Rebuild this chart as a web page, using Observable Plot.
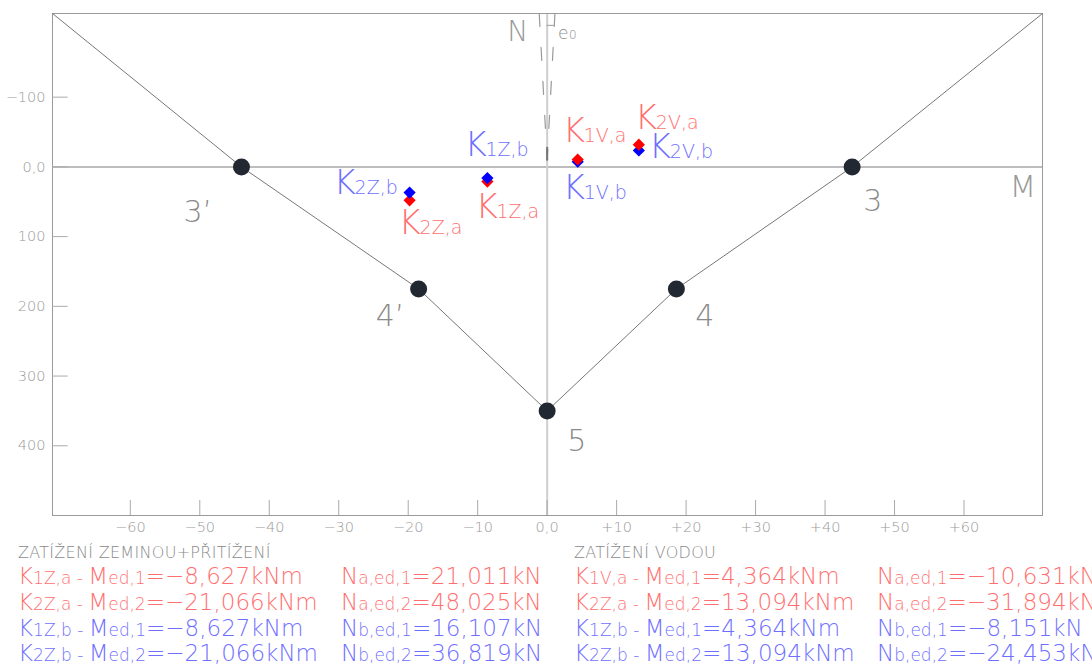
<!DOCTYPE html>
<html><head><meta charset="utf-8">
<script src="https://cdn.jsdelivr.net/npm/d3@7"></script>
<script src="https://cdn.jsdelivr.net/npm/@observablehq/plot@0.6"></script>
<style>
body{margin:0;background:#fff;width:1092px;height:664px;overflow:hidden;font-family:"DejaVu Sans",sans-serif;}
#chart svg, #caption svg{display:block}
</style></head><body>
<div id="chart"></div>
<div id="caption"></div>
<script>
// ---------- data ----------
const envelopeM = [-71.2, -44, -18.5, 0, 18.6, 43.9, 71.3];
const envelopeN = [-220, 0, 175, 350, 175, 0, -220];
const nodeNames = ["3’", "4’", "5", "4", "3"];
const nodeM = [-44, -18.5, 0, 18.6, 43.9];
const nodeN = [0, 175, 350, 175, 0];
const loadNames = ["1Z,a", "2Z,a", "1Z,b", "2Z,b", "1V,b", "2V,b", "1V,a", "2V,a"];
const loadM = [-8.6, -19.8, -8.6, -19.8, 4.4, 13.2, 4.4, 13.2];
const loadN = [21.0, 48.0, 16.1, 36.8, -7.5, -23.5, -10.6, -31.9];
const loadSet = ["a", "a", "b", "b", "b", "b", "a", "a"];
const xTicks = [-60, -50, -40, -30, -20, -10, 0, 10, 20, 30, 40, 50, 60];
const xTickLabels = ["−60", "−50", "−40", "−30", "−20", "−10", "0,0", "+10", "+20", "+30", "+40", "+50", "+60"];
const yTicks = [-100, 0, 100, 200, 300, 400];
const yTickLabels = ["−100", "0,0", "100", "200", "300", "400"];
const eccLeftM = [-1.14, 0];
const eccRightM = [1.12, 0];
const eccN = [-220, -9];
const axisNames = ["N", "M"];

const headLeft = "ZATÍŽENÍ  ZEMINOU+PŘITÍŽENÍ";
const headRight = "ZATÍŽENÍ  VODOU";
const capLeftK = ["1Z,a", "2Z,a", "1Z,b", "2Z,b"];
const capRightK = ["1V,a", "2Z,a", "1Z,b", "2Z,b"];
const capMsub = ["ed,1", "ed,2", "ed,1", "ed,2"];
const capNsub = ["a,ed,1", "a,ed,2", "b,ed,1", "b,ed,2"];
const capLeftMval = ["−8,627", "−21,066", "−8,627", "−21,066"];
const capLeftNval = ["21,011", "48,025", "16,107", "36,819"];
const capRightMval = ["4,364", "13,094", "4,364", "13,094"];
const capRightNval = ["−10,631", "−31,894", "−8,151", "−24,453"];
const capSet = ["a", "a", "b", "b"];

// ---------- styling / layout ----------
const FONT = "DejaVu Sans";
const W = 300;
const diamondColor = {a: "#ff0000", b: "#0000ff"};
const textColor = {a: "#ff6f6f", b: "#6f6fff"};
const labelOffset = {
  "1Z,b": [-23, -22], "1Z,a": [-12, 36], "2Z,b": [-76, 1], "2Z,a": [-11, 34],
  "1V,a": [-15, -17], "1V,b": [-15, 37], "2V,a": [-4, -16], "2V,b": [10, 7]
};
const nodeOffset = {"3’": [-58, 55], "4’": [-43, 37], "5": [20, 40], "4": [19, 37], "3": [11, 44]};

const envelope = envelopeM.map((m, i) => ({M: m, N: envelopeN[i]}));
const nodes = nodeNames.map((n, i) => ({name: n, M: nodeM[i], N: nodeN[i]}));
const loads = loadNames.map((n, i) => ({name: n, M: loadM[i], N: loadN[i], set: loadSet[i]}));
const ecc = [
  ...eccLeftM.map((m, i) => ({side: "L", M: m, N: eccN[i]})),
  ...eccRightM.map((m, i) => ({side: "R", M: m, N: eccN[i]}))
];

const loadLabelMarks = loads.flatMap(d => {
  const [dx, dy] = labelOffset[d.name];
  return [
    Plot.text([d], {x: "M", y: "N", text: () => "K", dx, dy, textAnchor: "start", lineAnchor: "bottom",
      fontSize: 34, fontWeight: W, fill: textColor[d.set]}),
    Plot.text([d], {x: "M", y: "N", text: "name", dx: dx + 21, dy, textAnchor: "start", lineAnchor: "bottom",
      fontSize: 19, fontWeight: W, fill: textColor[d.set]})
  ];
});
const nodeLabelMarks = nodes.map(d => {
  const [dx, dy] = nodeOffset[d.name];
  return Plot.text([d], {x: "M", y: "N", text: "name", dx, dy, textAnchor: "start", lineAnchor: "bottom",
    fontSize: 30, fontWeight: W, fill: "#8a8a8a"});
});

const chart = Plot.plot({
  width: 1092, height: 540,
  marginLeft: 52, marginRight: 50, marginTop: 13, marginBottom: 25,
  x: {domain: [-71.2, 71.3], axis: null},
  y: {domain: [-220, 500], reverse: true, axis: null},
  style: {fontFamily: FONT, background: "#fff", overflow: "visible"},
  marks: [
    Plot.ruleY([0], {stroke: "#bdbdbd", strokeWidth: 2}),
    Plot.ruleX([0], {stroke: "#cfcfcf", strokeWidth: 2}),
    Plot.line(ecc, {x: "M", y: "N", z: "side", stroke: "#9a9a9a", strokeWidth: 1.2, strokeDasharray: "13,21"}),
    Plot.ruleY([-203], {x1: 0, x2: 1.03, stroke: "#9a9a9a"}),
    Plot.ruleX([0], {y1: -28, y2: -9, stroke: "#777", strokeWidth: 2}),
    Plot.text(["e"], {x: 1.12, y: -220, text: d => d, dx: 3, dy: 25, textAnchor: "start", lineAnchor: "bottom", fontSize: 17, fontWeight: W, fill: "#8a8a8a"}),
    Plot.text(["0"], {x: 1.12, y: -220, text: d => d, dx: 14, dy: 25, textAnchor: "start", lineAnchor: "bottom", fontSize: 12, fontWeight: W, fill: "#8a8a8a"}),
    Plot.frame({stroke: "#9a9a9a"}),
    Plot.ruleX(xTicks, {x: d => d, y1: 500, y2: 478.5, stroke: "#aaa"}),
    Plot.ruleY(yTicks, {y: d => d, x1: -71.2, x2: -68.95, stroke: "#aaa"}),
    Plot.text(xTicks, {x: d => d, y: 500, text: (d, i) => xTickLabels[i], dy: 16, lineAnchor: "bottom", fontSize: 14.5, fontWeight: W, fill: "#999", style: "letter-spacing:0.6px"}),
    Plot.text(yTicks, {x: -71.2, y: d => d, text: (d, i) => yTickLabels[i], dx: -7, textAnchor: "end", lineAnchor: "middle", fontSize: 14.5, fontWeight: W, fill: "#999", style: "letter-spacing:0.6px"}),
    Plot.line(envelope, {x: "M", y: "N", stroke: "#777", strokeWidth: 1}),
    Plot.dot(nodes, {x: "M", y: "N", r: 8.5, fill: "#222831"}),
    ...nodeLabelMarks,
    Plot.text([axisNames[0]], {x: 0, y: -220, text: d => d, dx: -40, dy: 27, textAnchor: "start", lineAnchor: "bottom", fontSize: 28, fontWeight: W, fill: "#999"}),
    Plot.text([axisNames[1]], {x: 71.3, y: 0, text: d => d, dx: -33, dy: 30, textAnchor: "start", lineAnchor: "bottom", fontSize: 31, fontWeight: W, fill: "#999"}),
    Plot.dot(loads, {x: "M", y: "N", symbol: "diamond2", r: 5.5, fill: d => diamondColor[d.set], stroke: "none"}),
    ...loadLabelMarks
  ]
});
document.getElementById("chart").appendChild(chart);

// ---------- caption (below the chart) ----------
const cap = d3.select("#caption").append("svg").attr("width", 1092).attr("height", 124)
  .style("font-family", FONT).style("font-weight", W);
function head(x, txt) {
  cap.append("text").attr("x", x).attr("y", 18).attr("fill", "#8a8a8a").attr("font-size", 16)
    .style("letter-spacing", "0.3px").text(txt);
}
head(18, headLeft);
head(574, headRight);
const BIG = 23, SUB = 17;
function capLine(x0, y, k, mSub, mVal, nSub, nVal, set, nOff) {
  const col = textColor[set];
  const t = cap.append("text").attr("x", x0).attr("y", y).attr("fill", col);
  t.append("tspan").attr("font-size", BIG).text("K");
  t.append("tspan").attr("font-size", SUB).text(k);
  t.append("tspan").attr("font-size", SUB).text(" - ");
  t.append("tspan").attr("font-size", BIG).text("M");
  t.append("tspan").attr("font-size", SUB).text(mSub);
  t.append("tspan").attr("font-size", BIG).text("=" + mVal + "kNm");
  const u = cap.append("text").attr("x", x0 + nOff).attr("y", y).attr("fill", col);
  u.append("tspan").attr("font-size", BIG).text("N");
  u.append("tspan").attr("font-size", SUB).text(nSub);
  u.append("tspan").attr("font-size", BIG).text("=" + nVal + "kN");
}
const baselines = [44, 70, 96, 121];
capLeftK.forEach((k, i) => capLine(18, baselines[i], k, capMsub[i], capLeftMval[i], capNsub[i], capLeftNval[i], capSet[i], 323));
capRightK.forEach((k, i) => capLine(574, baselines[i], k, capMsub[i], capRightMval[i], capNsub[i], capRightNval[i], capSet[i], 303));
</script>
</body></html>
